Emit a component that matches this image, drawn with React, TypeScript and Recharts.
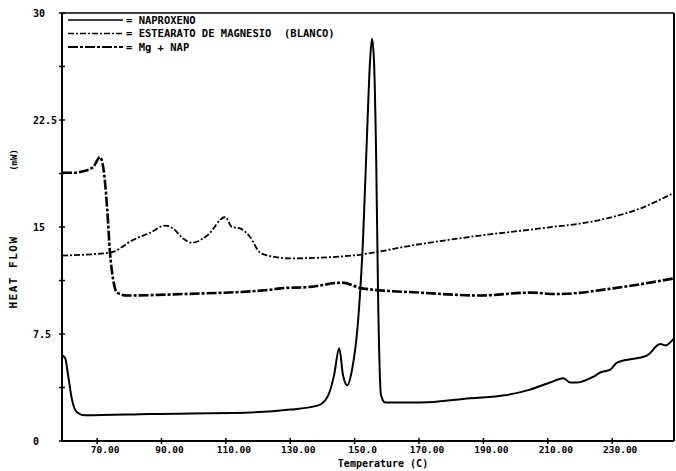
import { Legend, Line, LineChart, ReferenceLine, XAxis, YAxis } from 'recharts';

// DSC curves: temperature (°C) vs heat flow (mW)
const napTemp = [59.1, 60.1, 61.0, 62.2, 63.8, 66.3, 86.5, 117.5, 130.0, 138.7, 141.8, 143.6, 145.2, 146.4, 147.7, 149.2, 151.1, 152.6, 153.9, 154.8, 155.4, 156.0, 156.7, 157.3, 158.2, 159.5, 170.3, 185.9, 196.7, 204.5, 210.7, 214.8, 217.0, 219.1, 224.1, 226.3, 229.4, 231.5, 240.9, 244.9, 246.5, 249.2];
const napFlow = [6.0, 5.8, 4.6, 2.9, 2.0, 1.8, 1.9, 2.0, 2.2, 2.5, 3.2, 4.6, 6.5, 4.6, 3.9, 5.0, 8.5, 14.1, 21.8, 26.7, 28.2, 26.7, 19.7, 9.9, 3.2, 2.7, 2.7, 3.0, 3.2, 3.6, 4.1, 4.4, 4.1, 4.1, 4.5, 4.8, 5.0, 5.5, 6.0, 6.8, 6.7, 7.2];

const estTemp = [59.1, 74.0, 81.2, 86.5, 91.1, 93.6, 96.7, 99.4, 104.2, 109.8, 111.9, 114.4, 117.5, 120.6, 123.1, 130.0, 149.2, 170.3, 189.0, 207.6, 226.3, 238.7, 249.2];
const estFlow = [13.0, 13.2, 14.1, 14.6, 15.1, 14.9, 14.2, 13.9, 14.4, 15.7, 15.0, 14.9, 14.3, 13.2, 13.0, 12.8, 13.0, 13.8, 14.4, 14.9, 15.5, 16.3, 17.4];

const mixTemp = [59.1, 62.5, 65.6, 68.8, 70.9, 71.9, 73.1, 74.0, 75.0, 76.2, 79.3, 96.7, 123.7, 126.9, 136.2, 146.1, 152.3, 170.3, 189.0, 204.5, 212.9, 230.3, 249.2];
const mixFlow = [18.8, 18.8, 18.9, 19.2, 19.9, 19.2, 16.4, 13.2, 11.3, 10.4, 10.2, 10.3, 10.6, 10.7, 10.8, 11.1, 10.7, 10.4, 10.2, 10.4, 10.3, 10.7, 11.4];

const xTicks = [70, 90, 110, 130, 150, 170, 190, 210, 230];
const xTickLabels = ['70.00', '90.00', '110.00', '130.00', '150.0', '170.00', '190.00', '210.00', '230.00'];
const yTicks = [0, 3.75, 7.5, 11.25, 15, 18.75, 22.5, 26.25, 30];
const yTickLabels = ['0', '', '7.5', '', '15', '', '22.5', '', '30'];

const seriesNames = ['NAPROXENO', 'ESTEARATO DE MAGNESIO  (BLANCO)', 'Mg + NAP'];

const zip = (ts: number[], vs: number[]) => ts.map((t, i) => ({ t, v: vs[i] }));
const napData = zip(napTemp, napFlow);
const estData = zip(estTemp, estFlow);
const mixData = zip(mixTemp, mixFlow);

const FONT = '"DejaVu Sans Mono", monospace';

const styles = [
  { width: 2, dash: undefined as string | undefined },
  { width: 1.8, dash: '6 2 2 2' },
  { width: 2.6, dash: '10 2 3 2' },
];

const XTick = ({ x, y, payload, index }: any) => (
  <g>
    <line x1={x} x2={x} y1={y - 3} y2={y + 3} stroke="#000" strokeWidth={1.5} />
    <text x={x + 8} y={y + 12} textAnchor="middle" fontFamily={FONT} fontWeight="bold" fontSize={9.5} fill="#000">
      {xTickLabels[index] ?? payload.value}
    </text>
  </g>
);

const YTick = ({ x, y, index }: any) => (
  <g>
    <line x1={x - 3} x2={x + 3} y1={y} y2={y} stroke="#000" strokeWidth={1.5} />
    {yTickLabels[index] && (
      <text x={x - 29} y={y + 3.5} textAnchor="start" fontFamily={FONT} fontWeight="bold" fontSize={10} fill="#000">
        {yTickLabels[index]}
      </text>
    )}
  </g>
);

const LegendBox = () => (
  <svg width={300} height={44}>
    {seriesNames.map((name, i) => {
      const y = 6 + i * 13.5;
      return (
        <g key={name}>
          <line x1={4} x2={59} y1={y} y2={y} stroke="#000" strokeWidth={styles[i].width * 0.8} strokeDasharray={styles[i].dash} />
          <text x={62} y={y + 3.5} fontFamily={FONT} fontWeight="bold" fontSize={10.5} fill="#000" xmlSpace="preserve" style={{ whiteSpace: 'pre' }}>
            {'= ' + name}
          </text>
        </g>
      );
    })}
  </svg>
);

export default function App() {
  return (
    <div style={{ position: 'absolute', left: 0, top: 0, background: '#fff' }}>
      <LineChart width={676} height={471} margin={{ top: 13, right: 2, bottom: 0, left: 0 }}>
        <XAxis
          dataKey="t"
          type="number"
          domain={[59.1, 249.2]}
          ticks={xTicks}
          allowDataOverflow
          height={30}
          tickSize={0}
          tickMargin={0}
          tickLine={false}
          tick={<XTick />}
          axisLine={{ stroke: '#000', strokeWidth: 2 }}
          label={{
            content: () => (
              <text x={383} y={467} textAnchor="middle" fontFamily={FONT} fontWeight="bold" fontSize={10} fill="#000">
                Temperature (C)
              </text>
            ),
          }}
        />
        <YAxis
          type="number"
          domain={[0, 30]}
          ticks={yTicks}
          allowDataOverflow
          width={62}
          tickSize={0}
          tickMargin={0}
          tickLine={false}
          tick={<YTick />}
          axisLine={{ stroke: '#000', strokeWidth: 2 }}
          label={{
            content: () => (
              <g fontFamily={FONT} fontWeight="bold" fill="#000">
                <text transform="translate(17,272) rotate(-90)" textAnchor="middle" fontSize={11} letterSpacing={1.5}>HEAT FLOW</text>
                <text transform="translate(17,160) rotate(-90)" textAnchor="middle" fontSize={9}>(mW)</text>
              </g>
            ),
          }}
        />
        <ReferenceLine y={30} stroke="#000" strokeWidth={1.5} />
        <ReferenceLine x={249.2} stroke="#000" strokeWidth={2} />
        <Legend
          layout="vertical"
          align="center"
          verticalAlign="middle"
          content={<LegendBox />}
          wrapperStyle={{ position: 'absolute', left: 64, top: 14, width: 300, height: 44 }}
        />
        <Line data={napData} dataKey="v" name={seriesNames[0]} type="monotone" stroke="#000" strokeWidth={styles[0].width} dot={false} isAnimationActive={false} />
        <Line data={estData} dataKey="v" name={seriesNames[1]} type="monotone" stroke="#000" strokeWidth={styles[1].width} strokeDasharray={styles[1].dash} dot={false} isAnimationActive={false} />
        <Line data={mixData} dataKey="v" name={seriesNames[2]} type="monotone" stroke="#000" strokeWidth={styles[2].width} strokeDasharray={styles[2].dash} dot={false} isAnimationActive={false} />
      </LineChart>
    </div>
  );
}
